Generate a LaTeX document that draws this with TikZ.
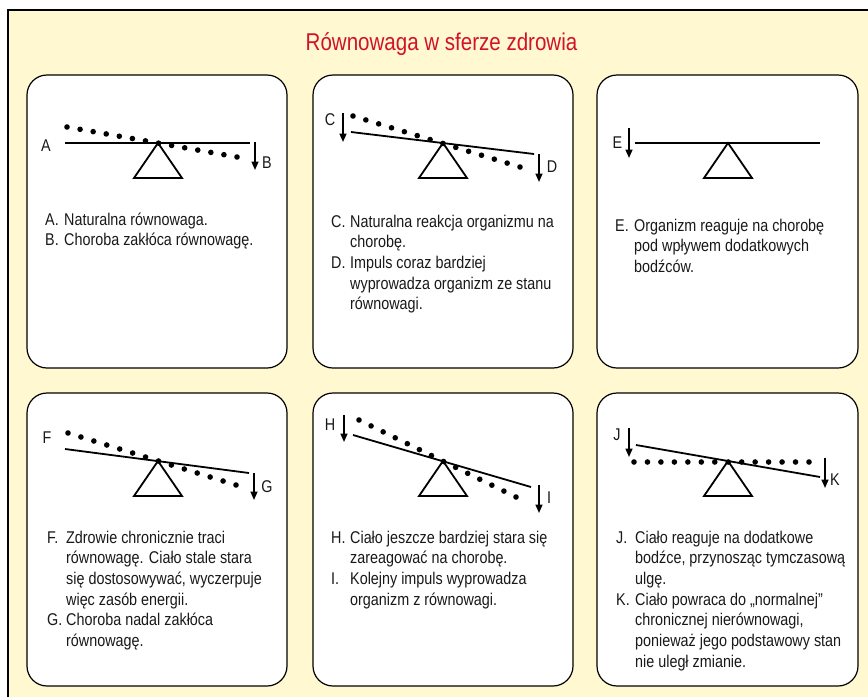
\documentclass[tikz,border=0pt]{standalone}
\usepackage{fontspec}
\setmainfont{Liberation Sans}[FakeStretch=0.845]
\usetikzlibrary{calc,arrows.meta}
\definecolor{bgyellow}{RGB}{255,248,208}
\definecolor{titlered}{RGB}{210,18,43}
\definecolor{txt}{RGB}{25,25,25}
\newcommand{\lbl}[1]{\makebox[19pt][l]{#1}}
\newenvironment{itemlines}{\begin{tabular}[t]{@{}l@{}}}{\end{tabular}}
\begin{document}
\begin{tikzpicture}[x=1pt,y=-1pt,
  panel/.style={draw=black,line width=1.2pt,fill=white,rounded corners=20pt},
  beam/.style={line width=1.8pt},
  fulcrum/.style={line width=1.8pt,line join=miter},
  push/.style={line width=1.6pt,-{Triangle[length=8.5pt,width=7pt]}},
  letter/.style={font=\fontsize{17}{20.7}\selectfont,text=txt,inner sep=0pt},
  desc/.style={font=\fontsize{17}{20.7}\selectfont,text=txt,inner sep=0pt,anchor=base west},
  dot/.style={fill=black}
]
\useasboundingbox (0,0) rectangle (868,697);
% background frame
\fill[bgyellow] (8,10) rectangle (868,697);
\draw[line width=1.5pt] (8,697) -- (8,10) -- (868,10);
% title
\node[font=\fontsize{24.3}{28}\selectfont,text=titlered,inner sep=0pt,anchor=base] (title) at (441.5,50) {Równowaga w sferze zdrowia};
% panels
\draw[panel] (27,75) rectangle (287,368);
\draw[panel] (313,75) rectangle (573,368);
\draw[panel] (597,75) rectangle (858,368);
\draw[panel] (27,393) rectangle (287,686);
\draw[panel] (313,393) rectangle (573,686);
\draw[panel] (597,393) rectangle (858,686);

% ---------- Panel A/B ----------
\coordinate (p1a) at (158,143);
\coordinate (p1l) at (65,143);
\coordinate (p1r) at (250,143);
\coordinate (p1d1) at (67,127);
\coordinate (p1d2) at (237,157);
\foreach \i in {0,...,13} \fill[dot] ($(p1d1)!\i/13!(p1d2)$) circle (2.8pt);
\draw[beam] (p1l) -- (p1r);
\draw[fulcrum] (p1a) -- ++(-24,35) -- ++(48,0) -- cycle;
\coordinate (Bs) at (255,142); \coordinate (Be) at (255,170);
\draw[push] (Bs) -- (Be);
\node[letter] (labA) at (46,146) {A};
\node[letter] (labB) at (267,163) {B};
\node[desc] (txtAB) at (45,225) {\begin{itemlines}\lbl{A.}Naturalna równowaga.\\\lbl{B.}Choroba zakłóca równowagę.\end{itemlines}};

% ---------- Panel C/D ----------
\coordinate (p2a) at (443,143);
\coordinate (p2l) at (351,132);
\coordinate (p2r) at (534,154);
\coordinate (p2d1) at (353,116);
\coordinate (p2d2) at (520,167);
\foreach \i in {0,...,13} \fill[dot] ($(p2d1)!\i/13!(p2d2)$) circle (2.8pt);
\draw[beam] (p2l) -- (p2r);
\draw[fulcrum] (p2a) -- ++(-24,35) -- ++(48,0) -- cycle;
\coordinate (Cs) at (343,113); \coordinate (Ce) at (343,142);
\draw[push] (Cs) -- (Ce);
\coordinate (Ds) at (539,154); \coordinate (De) at (539,182);
\draw[push] (Ds) -- (De);
\node[letter] (labC) at (330,120) {C};
\node[letter] (labD) at (552,167) {D};
\node[desc] (txtCD) at (331,227) {\begin{itemlines}\lbl{C.}Naturalna reakcja organizmu na\\\lbl{}chorobę.\\\lbl{D.}Impuls coraz bardziej\\\lbl{}wyprowadza organizm ze stanu\\\lbl{}równowagi.\end{itemlines}};

% ---------- Panel E ----------
\coordinate (p3a) at (728,143);
\coordinate (p3l) at (635,143);
\coordinate (p3r) at (820,143);
\draw[beam] (p3l) -- (p3r);
\draw[fulcrum] (p3a) -- ++(-24,35) -- ++(48,0) -- cycle;
\coordinate (Es) at (629,128); \coordinate (Ee) at (629,158);
\draw[push] (Es) -- (Ee);
\node[letter] (labE) at (617.5,143) {E};
\node[desc] (txtE) at (615,231) {\begin{itemlines}\lbl{E.}Organizm reaguje na chorobę\\\lbl{}pod wpływem dodatkowych\\\lbl{}bodźców.\end{itemlines}};

% ---------- Panel F/G ----------
\coordinate (p4a) at (158,461);
\coordinate (p4l) at (65,449);
\coordinate (p4r) at (249,473);
\coordinate (p4d1) at (68,433);
\coordinate (p4d2) at (236,485);
\foreach \i in {0,...,13} \fill[dot] ($(p4d1)!\i/13!(p4d2)$) circle (2.8pt);
\draw[beam] (p4l) -- (p4r);
\draw[fulcrum] (p4a) -- ++(-24,35) -- ++(48,0) -- cycle;
\coordinate (Gs) at (254,473); \coordinate (Ge) at (254,500);
\draw[push] (Gs) -- (Ge);
\node[letter] (labF) at (47,438) {F};
\node[letter] (labG) at (267,487) {G};
\node[desc] (txtFG) at (47,543) {\begin{itemlines}\lbl{F.}Zdrowie chronicznie traci\\\lbl{}równowagę. Ciało stale stara\\\lbl{}się dostosowywać, wyczerpuje\\\lbl{}więc zasób energii.\\\lbl{G.}Choroba nadal zakłóca\\\lbl{}równowagę.\end{itemlines}};

% ---------- Panel H/I ----------
\coordinate (p5a) at (443,461);
\coordinate (p5l) at (353,435);
\coordinate (p5r) at (531,487);
\coordinate (p5d1) at (359,420);
\coordinate (p5d2) at (516,497);
\foreach \i in {0,...,13} \fill[dot] ($(p5d1)!\i/13!(p5d2)$) circle (2.8pt);
\draw[beam] (p5l) -- (p5r);
\draw[fulcrum] (p5a) -- ++(-24,35) -- ++(48,0) -- cycle;
\coordinate (Hs) at (344,415); \coordinate (He) at (344,442);
\draw[push] (Hs) -- (He);
\coordinate (Is) at (539,485); \coordinate (Ie) at (539,513);
\draw[push] (Is) -- (Ie);
\node[letter] (labH) at (330,425) {H};
\node[letter] (labI) at (549,498) {I};
\node[desc] (txtHI) at (331,543) {\begin{itemlines}\lbl{H.}Ciało jeszcze bardziej stara się\\\lbl{}zareagować na chorobę.\\\lbl{I.}Kolejny impuls wyprowadza\\\lbl{}organizm z równowagi.\end{itemlines}};

% ---------- Panel J/K ----------
\coordinate (p6a) at (728,461);
\coordinate (p6l) at (636,445);
\coordinate (p6r) at (820,477);
\coordinate (p6d1) at (634,462);
\coordinate (p6d2) at (809,462);
\foreach \i in {0,...,13} \fill[dot] ($(p6d1)!\i/13!(p6d2)$) circle (2.8pt);
\draw[beam] (p6l) -- (p6r);
\draw[fulcrum] (p6a) -- ++(-24,35) -- ++(48,0) -- cycle;
\coordinate (Js) at (629,428); \coordinate (Je) at (629,457);
\draw[push] (Js) -- (Je);
\coordinate (Ks) at (825,458); \coordinate (Ke) at (825,488);
\draw[push] (Ks) -- (Ke);
\node[letter] (labJ) at (617,435) {J};
\node[letter] (labK) at (835,480) {K};
\node[desc] (txtJK) at (616,543) {\begin{itemlines}\lbl{J.}Ciało reaguje na dodatkowe\\\lbl{}bodźce, przynosząc tymczasową\\\lbl{}ulgę.\\\lbl{K.}Ciało powraca do „normalnej”\\\lbl{}chronicznej nierównowagi,\\\lbl{}ponieważ jego podstawowy stan\\\lbl{}nie uległ zmianie.\end{itemlines}};
\end{tikzpicture}
\end{document}
